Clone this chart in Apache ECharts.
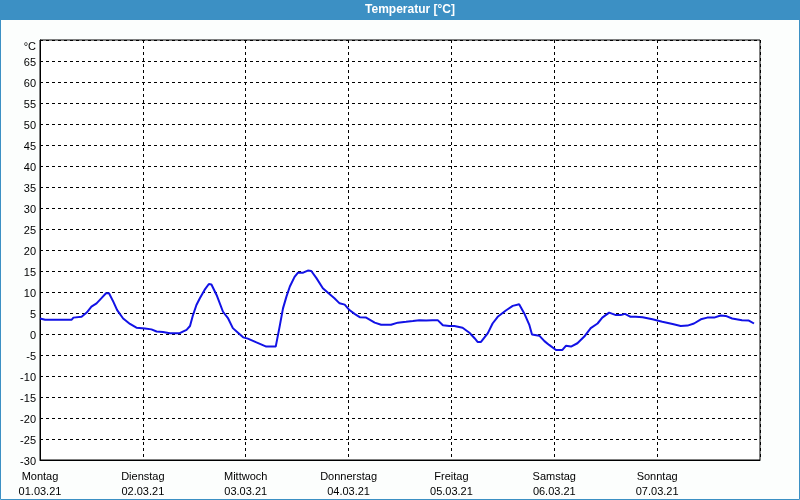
<!DOCTYPE html>
<html>
<head>
<meta charset="utf-8">
<script src="https://cdn.jsdelivr.net/npm/echarts@6/dist/echarts.min.js"></script>
<style>html,body{margin:0;padding:0;background:#fcfefd}#c{width:800px;height:500px}</style>
</head>
<body>
<div id="c"></div>
<script>
// Hours since Monday 01.03.21 00:00
var hours = [0,1.2,7.4,7.8,9.7,10.9,12.0,13.2,14.4,15.4,16.1,17.1,18.0,19.4,21.0,22.5,24.5,26.0,27.2,28.7,30.3,32.6,34.2,35.0,35.7,36.5,37.3,38.4,39.4,40.0,41.2,42.7,43.9,45.0,46.2,47.4,48.5,50.5,52.8,55.0,55.9,56.7,57.5,58.3,59.4,60.2,61.4,62.5,63.3,64.5,66.0,67.2,68.7,69.9,71.1,72.2,73.4,74.6,76.1,78.1,79.6,81.9,83.5,85.4,87.0,88.5,90.1,91.6,92.8,94.0,95.5,96.7,98.6,100.2,101.4,102.1,102.9,104.5,105.6,106.8,108.7,110.3,111.8,113.0,114.2,114.8,116.5,117.7,118.8,120.4,121.9,122.7,123.9,125.4,127.0,128.5,130.1,131.2,132.8,134.4,135.5,136.5,137.8,139.0,140.6,142.9,145.2,147.6,149.5,151.1,152.6,154.2,155.7,157.3,158.8,160.0,161.5,163.8,165.4,166.6];
var temps = [3.7,3.4,3.4,3.9,4.1,5.1,6.5,7.3,8.6,9.7,9.7,7.7,5.7,3.7,2.4,1.5,1.3,1.1,0.6,0.5,0.2,0.2,1.0,1.9,4.5,6.9,8.5,10.5,11.9,11.8,9.3,5.3,3.7,1.4,0.3,-0.8,-1.1,-2.0,-3.0,-3.0,1.7,6.1,8.9,11.3,13.6,14.6,14.6,15.1,15.0,13.3,10.9,9.8,8.5,7.3,7.0,5.7,4.8,4.0,3.9,2.7,2.2,2.2,2.7,2.9,3.1,3.3,3.2,3.3,3.3,2.1,1.9,1.9,1.5,0.3,-1.0,-1.9,-1.9,0.2,2.5,4.1,5.6,6.7,7.1,4.9,2.1,-0.1,-0.4,-1.7,-2.6,-3.8,-3.8,-2.8,-3.0,-2.2,-0.6,1.4,2.5,3.9,5.1,4.5,4.5,4.8,4.1,4.1,4.0,3.5,2.9,2.4,1.9,2.0,2.5,3.5,3.9,3.9,4.4,4.3,3.7,3.3,3.2,2.5];
var dayNames = ['Montag','Dienstag','Mittwoch','Donnerstag','Freitag','Samstag','Sonntag'];
var dayDates = ['01.03.21','02.03.21','03.03.21','04.03.21','05.03.21','06.03.21','07.03.21'];
var titleText = 'Temperatur [°C]';
var unitLabel = '°C';

var points = hours.map(function(h, i){ return [h, temps[i]]; });
var FONT = 'Liberation Sans';
var chart = echarts.init(document.getElementById('c'));
chart.setOption({
  backgroundColor: '#fcfefd',
  animation: false,
  textStyle: {fontFamily: FONT},
  graphic: [
    {type:'rect', shape:{x:0,y:0,width:800,height:20}, style:{fill:'#3c90c4'}, z:0},
    {type:'rect', shape:{x:0.5,y:0.5,width:799,height:499}, style:{fill:null, stroke:'#3c90c4', lineWidth:1}, z:0},
    {type:'text', x:410, y:10, style:{text:titleText, fill:'#ffffff', font:'bold 12px "Liberation Sans"', textAlign:'center', textVerticalAlign:'middle'}, z:10}
  ],
  grid: {left:40, right:40, top:40, bottom:40, show:true, borderColor:'#000', borderWidth:1, backgroundColor:'#ffffff'},
  xAxis: {
    type:'value', min:0, max:168, interval:24,
    axisLine:{show:true, onZero:false, lineStyle:{color:'#000', width:1}},
    axisTick:{show:false},
    splitLine:{show:true, lineStyle:{color:'#000', type:[3,3], width:1}},
    axisLabel:{
      color:'#000', fontSize:11, fontFamily:FONT, margin:9, lineHeight:15,
      showMaxLabel:true, showMinLabel:true,
      formatter:function(v){ var i=Math.round(v/24); return i<7 ? dayNames[i]+'\n'+dayDates[i] : ''; }
    }
  },
  yAxis: {
    type:'value', min:-30, max:70, interval:5,
    axisLine:{show:true, onZero:false, lineStyle:{color:'#000', width:1}},
    axisTick:{show:false},
    splitLine:{show:true, lineStyle:{color:'#000', type:[3,3], width:1}},
    axisLabel:{
      color:'#000', fontSize:11, fontFamily:FONT, margin:4, padding:[4,0,0,0],
      formatter:function(v){ return v===70 ? '{u|'+unitLabel+'}' : String(v); },
      rich:{u:{fontSize:11, fontFamily:FONT, color:'#000', padding:[10,0,0,0]}}
    }
  },
  series: [{
    type:'line', data:points, showSymbol:false, symbol:'none',
    lineStyle:{color:'#1212e6', width:2}, z:5
  }]
});
</script>
</body>
</html>
